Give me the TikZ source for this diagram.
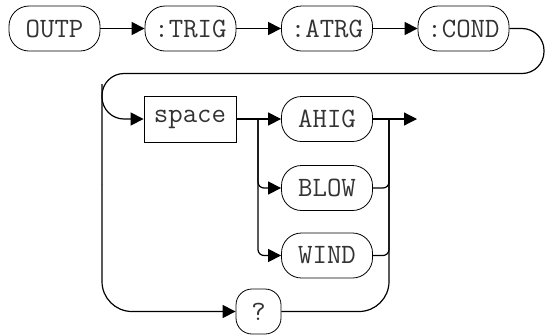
\documentclass[tikz,border=0pt]{standalone}
\usetikzlibrary{arrows.meta,positioning}
\tikzset{
    keyword/.style={
        draw,
        rounded corners=10pt,
        minimum width=45.5pt,
        minimum height=22.5pt,
        inner sep=0pt,
        text=black!80,
        font=\ttfamily\fontsize{14}{16}\selectfont
    },
    param/.style={
        draw,
        minimum width=46pt,
        minimum height=23pt,
        inner sep=0pt,
        text=black!80,
        font=\ttfamily\fontsize{14}{16}\selectfont
    },
    wire/.style={line width=0.6pt},
    flow/.style={wire, -{Triangle[length=6.5pt,width=6.5pt]}}
}

\begin{document}
\begin{tikzpicture}[x=0.5pt,y=0.5pt]
    \useasboundingbox (0,0) rectangle (545,334);
    % first line
    \node[keyword] (outp) at (54.5,305.5) {OUTP};
    \node[keyword] (trig) at (190.5,305.5) {:TRIG};
    \node[keyword] (atrg) at (327,305.5) {:ATRG};
    \node[keyword] (cond) at (463.5,305.5) {:COND};
    % second line
    \node[param] (space) at (190,215) {space};
    \node[keyword] (ahig) at (327,215) {AHIG};
    \node[keyword] (blow) at (327,146) {BLOW};
    \node[keyword] (wind) at (327,78.5) {WIND};
    \node[keyword, minimum width=22.5pt, rounded corners=8pt] (query) at (258.5,22.5) {?};
    \coordinate (split) at (258,215);
    \coordinate (merge) at (389,215);
    \coordinate (exit) at (417,215);
    \coordinate (back) at (102,150);

    \draw[flow] (outp) -- (trig);
    \draw[flow] (trig) -- (atrg);
    \draw[flow] (atrg) -- (cond);
    % wrap to the next line
    \draw[wire, rounded corners=11pt] (cond.east) -- (544,305.5) -- (544,260.5)
        -- (102,260.5) -- (back);
    \draw[flow, rounded corners=15pt] (back) |- (query.west);
    \draw[flow, rounded corners=11pt] (102,250) |- (space.west);
    % choices
    \draw[flow] (space) -- (ahig);
    \draw[flow, rounded corners=3pt] (split) |- (blow.west);
    \draw[flow, rounded corners=3pt] (split) |- (wind.west);
    \draw[wire, rounded corners=3pt] (blow.east) -| (merge);
    \draw[wire, rounded corners=3pt] (wind.east) -| (merge);
    \draw[wire, rounded corners=15pt] (query.east) -| (merge);
    \draw[flow] (ahig.east) -- (exit);
\end{tikzpicture}
\end{document}
